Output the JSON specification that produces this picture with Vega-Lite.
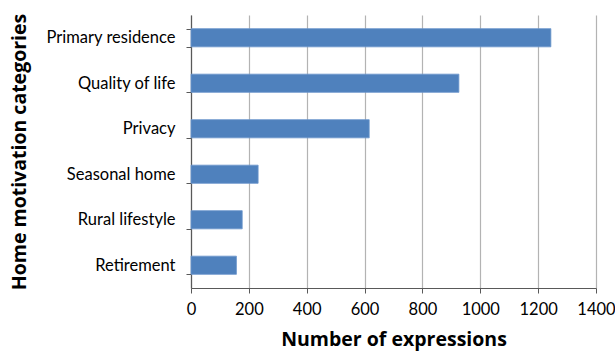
{
  "$schema": "https://vega.github.io/schema/vega-lite/v6.json",
  "autosize": "none",
  "width": 405,
  "height": 273,
  "padding": {"left": 191, "top": 15, "right": 19, "bottom": 64},
  "background": "white",
  "data": {
    "values": [
      {"category": "Primary residence", "count": 1244},
      {"category": "Quality of life", "count": 926},
      {"category": "Privacy", "count": 616},
      {"category": "Seasonal home", "count": 232},
      {"category": "Rural lifestyle", "count": 177},
      {"category": "Retirement", "count": 157}
    ]
  },
  "config": {
    "view": {"stroke": null},
    "font": "Lato",
    "axis": {"labelColor": "#000", "titleColor": "#000"}
  },
  "mark": {"type": "bar", "color": "#4F81BD", "stroke": "#6b96cc", "strokeWidth": 0.8},
  "encoding": {
    "y": {
      "field": "category",
      "type": "nominal",
      "sort": null,
      "scale": {"paddingInner": 0.6, "paddingOuter": 0.3},
      "axis": {
        "title": "Home motivation categories",
        "titleFont": "Open Sans",
        "titleFontSize": 19.5,
        "titleFontWeight": "bold",
        "titlePadding": 16,
        "labelFontSize": 16.5,
        "labelPadding": 11,
        "tickBand": "extent",
        "tickSize": 5,
        "tickColor": "#595959",
        "domainColor": "#595959",
        "domainWidth": 1.2,
        "labelFont": "Lato"
      }
    },
    "x": {
      "field": "count",
      "type": "quantitative",
      "scale": {"domain": [0, 1400], "nice": false},
      "axis": {
        "values": [0, 200, 400, 600, 800, 1000, 1200, 1400],
        "format": "d",
        "title": "Number of expressions",
        "titleFont": "Open Sans",
        "titleFontSize": 19.5,
        "titleFontWeight": "bold",
        "titlePadding": 13,
        "labelFontSize": 16.5,
        "labelPadding": 8,
        "labelFlush": false,
        "labelFont": "Lato",
        "tickSize": 5,
        "tickColor": "#595959",
        "domainColor": "#595959",
        "domainWidth": 1.2,
        "grid": true,
        "gridColor": "#b3b3b3",
        "gridWidth": 1.2
      }
    }
  }
}
